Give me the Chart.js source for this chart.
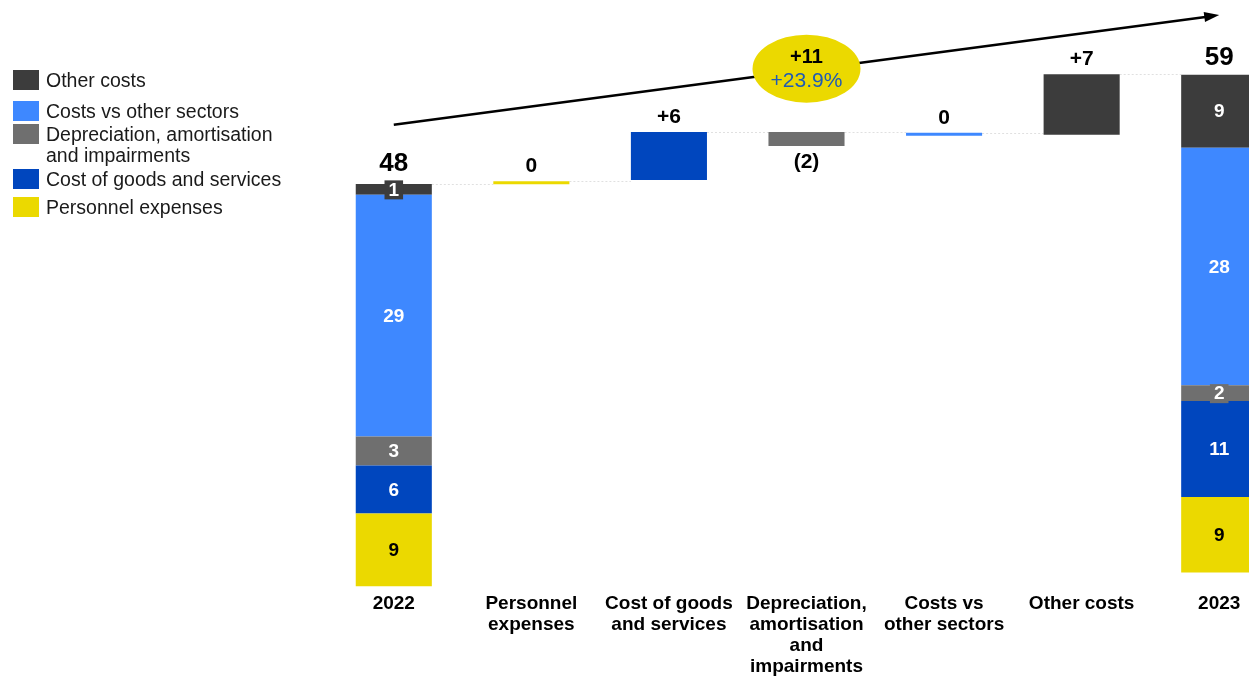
<!DOCTYPE html>
<html>
<head>
<meta charset="utf-8">
<script src="https://cdn.jsdelivr.net/npm/chart.js@4"></script>
<style>
  html, body { margin: 0; padding: 0; background: #fff; overflow: hidden; }
  #wrap { position: relative; width: 1290px; height: 684px; }
  #legend {
    position: absolute; left: 13px; top: 70px;
    font-family: Arial, 'Liberation Sans', sans-serif;
    font-size: 19.5px; line-height: 21px; color: #1a1a1a;
  }
  .item { display: flex; align-items: flex-start; margin-bottom: 5px; white-space: pre; }
  .item:nth-child(1) { margin-bottom: 10px; }
  .item:nth-child(2) { margin-bottom: 2px; }
  .item:nth-child(3) { margin-bottom: 3px; }
  .item:nth-child(4) { margin-bottom: 7px; }
  .swatch { width: 26px; height: 20px; margin-right: 7px; flex: none; }
</style>
</head>
<body>
<div id="wrap">
  <canvas id="chart"></canvas>
  <div id="legend"></div>
</div>
<script>
const categories = ['2022', ['Personnel', 'expenses'], ['Cost of goods', 'and services'],
  ['Depreciation,', 'amortisation', 'and', 'impairments'], ['Costs vs', 'other sectors'], 'Other costs', '2023'];
const seriesNames = ['Personnel expenses', 'Cost of goods and services',
  'Depreciation, amortisation\nand impairments', 'Costs vs other sectors', 'Other costs'];
const seriesColors = ['#ebd900', '#0046be', '#6f6f6f', '#3e88ff', '#3c3c3c'];

// stacked components of the two total bars
const values2022 = [8.7, 5.72, 3.46, 28.86, 1.31];
const values2023 = [9.0, 11.45, 1.9, 28.35, 8.7];
const base2022 = 0;
const base2023 = 1.67;

// waterfall steps, one per component
const stepBase = [48, 48.5, 54.25, 53.8, 53.9];
const stepChange = [0, 5.75, -1.67, 0, 7.25];

// growth bubble + trend arrow
const growthAbs = '+11';
const growthPct = '+23.9%';
const arrowFrom = 55.1;
const arrowTo = 68.2;
const bubbleLevel = 61.8;

const FONT = 'Arial, "Liberation Sans", sans-serif';
const sum = (arr) => arr.reduce((a, b) => a + b, 0);

const datasets = seriesNames.map((name, s) => {
  const lo22 = base2022 + sum(values2022.slice(0, s));
  const lo23 = base2023 + sum(values2023.slice(0, s));
  const data = categories.map(() => null);
  data[0] = [lo22, lo22 + values2022[s]];
  data[s + 1] = [stepBase[s], stepBase[s] + stepChange[s]];
  data[6] = [lo23, lo23 + values2023[s]];
  return {
    label: name,
    data: data,
    backgroundColor: seriesColors[s],
    borderWidth: 0,
    minBarLength: 3,
    grouped: false,
    barPercentage: 0.553,
    categoryPercentage: 1
  };
});

function stepText(c) {
  const r = Math.round(Math.abs(c));
  if (r === 0) return '0';
  return c > 0 ? '+' + r : '(' + r + ')';
}

// html legend, top item = top of stack
const legendEl = document.getElementById('legend');
seriesNames.slice().reverse().forEach((name, k) => {
  const s = seriesNames.length - 1 - k;
  const item = document.createElement('div');
  item.className = 'item';
  item.innerHTML = `<span class="swatch" style="background:${seriesColors[s]}"></span><span>${name}</span>`;
  legendEl.appendChild(item);
});

const connectors = {
  id: 'connectors',
  beforeDatasetsDraw(chart) {
    const ctx = chart.ctx;
    const tops = [], lefts = [], rights = [];
    chart.data.datasets.forEach((ds, s) => {
      chart.getDatasetMeta(s).data.forEach((bar, i) => {
        if (ds.data[i] == null) return;
        const t = Math.min(bar.y, bar.base);
        tops[i] = tops[i] == null ? t : Math.min(tops[i], t);
        lefts[i] = bar.x - bar.width / 2;
        rights[i] = bar.x + bar.width / 2;
      });
    });
    ctx.save();
    ctx.strokeStyle = 'rgba(0,0,0,0.12)';
    ctx.lineWidth = 1;
    ctx.setLineDash([2, 2]);
    for (let i = 0; i < categories.length - 1; i++) {
      ctx.beginPath();
      ctx.moveTo(rights[i], Math.round(tops[i]) + 0.5);
      ctx.lineTo(lefts[i + 1], Math.round(tops[i]) + 0.5);
      ctx.stroke();
    }
    ctx.restore();
  }
};

const labels = {
  id: 'labels',
  afterDatasetsDraw(chart) {
    const ctx = chart.ctx;
    const ys = chart.scales.y;
    const xs = chart.scales.x;
    ctx.save();
    ctx.textAlign = 'center';
    ctx.textBaseline = 'middle';
    chart.data.datasets.forEach((ds, s) => {
      chart.getDatasetMeta(s).data.forEach((bar, i) => {
        if (ds.data[i] == null) return;
        const top = Math.min(bar.y, bar.base);
        const bottom = Math.max(bar.y, bar.base);
        if (i === 0 || i === categories.length - 1) {
          const txt = String(Math.round((i === 0 ? values2022 : values2023)[s]));
          const cy = (top + bottom) / 2;
          ctx.font = 'bold 19px ' + FONT;
          if (bottom - top < 20) {
            const w = ctx.measureText(txt).width + 8;
            ctx.fillStyle = seriesColors[s];
            ctx.fillRect(bar.x - w / 2, cy - 9, w, 19);
          }
          ctx.fillStyle = s === 0 ? '#000' : '#fff';
          ctx.fillText(txt, bar.x, cy + 1);
        } else {
          const c = stepChange[s];
          ctx.font = 'bold 21px ' + FONT;
          ctx.fillStyle = '#000';
          if (c < 0) ctx.fillText(stepText(c), bar.x, bottom + 16);
          else ctx.fillText(stepText(c), bar.x, top - 15);
        }
      });
    });
    // totals above the two stacks
    ctx.font = 'bold 26px ' + FONT;
    ctx.fillStyle = '#000';
    const tot22 = sum(values2022), tot23 = sum(values2023);
    ctx.fillText(String(Math.round(tot22)), xs.getPixelForValue(0), ys.getPixelForValue(base2022 + tot22) - 20);
    ctx.fillText(String(Math.round(tot23)), xs.getPixelForValue(6), ys.getPixelForValue(base2023 + tot23) - 17);
    ctx.restore();
  }
};

const trend = {
  id: 'trend',
  afterDraw(chart) {
    const ctx = chart.ctx;
    const xs = chart.scales.x, ys = chart.scales.y;
    const x0 = xs.getPixelForValue(0), x1 = xs.getPixelForValue(6);
    const y0 = ys.getPixelForValue(arrowFrom), y1 = ys.getPixelForValue(arrowTo);
    const ang = Math.atan2(y1 - y0, x1 - x0);
    const head = 15;
    ctx.save();
    ctx.strokeStyle = '#000';
    ctx.fillStyle = '#000';
    ctx.lineWidth = 2.5;
    ctx.beginPath();
    ctx.moveTo(x0, y0);
    ctx.lineTo(x1 - head * 0.8 * Math.cos(ang), y1 - head * 0.8 * Math.sin(ang));
    ctx.stroke();
    ctx.beginPath();
    ctx.moveTo(x1, y1);
    ctx.lineTo(x1 - head * Math.cos(ang) + 5 * Math.sin(ang), y1 - head * Math.sin(ang) - 5 * Math.cos(ang));
    ctx.lineTo(x1 - head * Math.cos(ang) - 5 * Math.sin(ang), y1 - head * Math.sin(ang) + 5 * Math.cos(ang));
    ctx.closePath();
    ctx.fill();

    const cx = xs.getPixelForValue(3), cy = ys.getPixelForValue(bubbleLevel);
    ctx.fillStyle = '#ebd900';
    ctx.beginPath();
    ctx.ellipse(cx, cy, 54, 34, 0, 0, Math.PI * 2);
    ctx.fill();
    ctx.textAlign = 'center';
    ctx.textBaseline = 'middle';
    ctx.fillStyle = '#000';
    ctx.font = 'bold 20px ' + FONT;
    ctx.fillText(growthAbs, cx, cy - 11);
    ctx.fillStyle = '#1f5bb5';
    ctx.font = '21px ' + FONT;
    ctx.fillText(growthPct, cx, cy + 13);
    ctx.restore();
  }
};

new Chart(document.getElementById('chart'), {
  type: 'bar',
  data: { labels: categories, datasets: datasets },
  plugins: [connectors, labels, trend],
  options: {
    responsive: true,
    maintainAspectRatio: false,
    animation: false,
    layout: { padding: { left: 325, right: 2, top: 0, bottom: 0 } },
    plugins: { legend: { display: false }, tooltip: { enabled: false } },
    scales: {
      x: {
        grid: { display: false, drawTicks: false },
        border: { display: false },
        ticks: {
          color: '#000',
          padding: 7,
          maxRotation: 0,
          autoSkip: false,
          font: { family: FONT, size: 19, weight: 'bold', lineHeight: 1.1 }
        }
      },
      y: { display: false, min: 0, max: 70, stacked: false }
    }
  }
});
</script>
</body>
</html>
